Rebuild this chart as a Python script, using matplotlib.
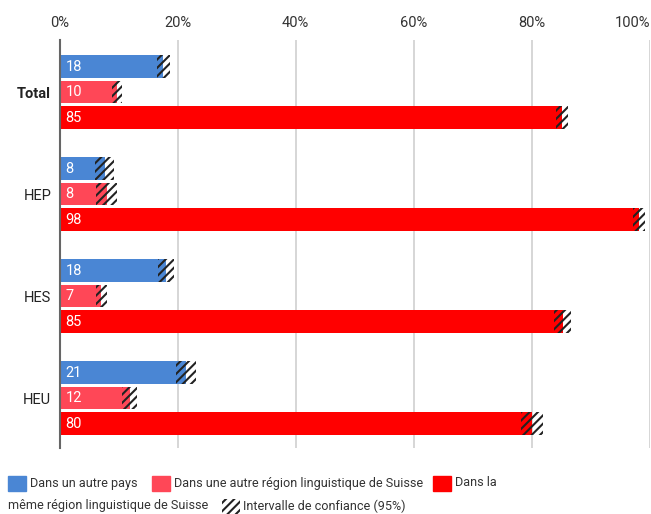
import matplotlib
matplotlib.use("Agg")
import matplotlib.pyplot as plt
from matplotlib.patches import Rectangle

plt.rcParams['font.family'] = ['Roboto', 'DejaVu Sans']
plt.rcParams['hatch.linewidth'] = 1.5

categories = ["Total", "HEP", "HES", "HEU"]
series_names = ["Dans un autre pays",
                "Dans une autre région linguistique de Suisse",
                "Dans la même région linguistique de Suisse"]
colors = ["#4a86d4", "#ff4757", "#ff0000"]

# values per category: [autre pays, autre région, même région]
values = {
    "Total": [17.6, 9.7, 85.1],
    "HEP":   [7.7, 8.0, 98.1],
    "HES":   [18.0, 7.1, 85.2],
    "HEU":   [21.4, 11.9, 80.0],
}
labels = {
    "Total": ["18", "10", "85"],
    "HEP":   ["8", "8", "98"],
    "HES":   ["18", "7", "85"],
    "HEU":   ["21", "12", "80"],
}
ci_low = {
    "Total": [16.5, 8.9, 84.1],
    "HEP":   [6.0, 6.1, 97.1],
    "HES":   [16.6, 6.2, 83.8],
    "HEU":   [19.7, 10.5, 78.2],
}
ci_high = {
    "Total": [18.7, 10.6, 86.1],
    "HEP":   [9.2, 9.8, 99.1],
    "HES":   [19.4, 8.0, 86.7],
    "HEU":   [23.1, 13.2, 81.9],
}
xticks = [0, 20, 40, 60, 80, 100]
xtick_labels = ["0%", "20%", "40%", "60%", "80%", "100%"]
legend_ci = "Intervalle de confiance (95%)"

W, H = 651, 514
fig = plt.figure(figsize=(W / 100, H / 100), dpi=100)
ax = fig.add_axes([59.5 / W, 1 - 448 / H, (650 - 59.5) / W, (448 - 40) / H])

bar_h = 0.9
for g, cat in enumerate(categories):
    for j in range(3):
        y = g * 4 + j
        v = values[cat][j]
        ax.barh(y, v, height=bar_h, color=colors[j], zorder=2)
        lo, hi = ci_low[cat][j], ci_high[cat][j]
        ax.barh(y, hi - lo, left=lo, height=bar_h, fill=False, hatch='////',
                edgecolor='#222222', linewidth=0, zorder=3)
        ax.text(1.0, y, labels[cat][j], color='white', fontsize=10.5,
                va='center', ha='left', zorder=4)

ax.set_xlim(0, 100)
ax.set_ylim(16 - 1.04, -1.04)
ax.set_xticks(xticks)
ax.set_xticklabels(xtick_labels)
ax.xaxis.tick_top()
ax.tick_params(axis='x', length=0, pad=7, labelsize=10.5, labelcolor='#333333')
ax.get_xticklabels()[-1].set_horizontalalignment('right')
ax.set_yticks([g * 4 + 1 for g in range(len(categories))])
ax.set_yticklabels(categories)
ax.tick_params(axis='y', length=0, pad=6, labelsize=10.5, labelcolor='#222222')
for lab in ax.get_yticklabels():
    if lab.get_text() == "Total":
        lab.set_fontweight('bold')
for s in ['top', 'right', 'bottom']:
    ax.spines[s].set_visible(False)
ax.spines['left'].set_color('#666666')
ax.spines['left'].set_linewidth(1.5)
ax.spines['left'].set_zorder(5)
for x in xticks[1:]:
    ax.axvline(x, color='#d0d0d0', linewidth=1.2, zorder=1)

# legend (manual, wrapped)
def sq(x, y, **kw):
    fig.patches.append(Rectangle((x / W, 1 - (y + 8) / H), 18 / W, 15 / H,
                                 transform=fig.transFigure, **kw))

def tx(x, y, s):
    fig.text(x / W, 1 - y / H, s, fontsize=9.1, color='#333333',
             va='center', ha='left')

row1, row2 = 483, 506
sq(8, row1, color=colors[0])
tx(30, row1, series_names[0])
sq(152, row1, color=colors[1])
tx(174, row1, series_names[1])
sq(433, row1, color=colors[2])
words = series_names[2].split(" ")
tx(455, row1, " ".join(words[:2]))
tx(8, row2, " ".join(words[2:]))
sq(222, row2, fill=False, hatch='////', edgecolor='#222222', linewidth=0)
tx(243, row2, legend_ci)

fig.savefig("out.png", dpi=100)
